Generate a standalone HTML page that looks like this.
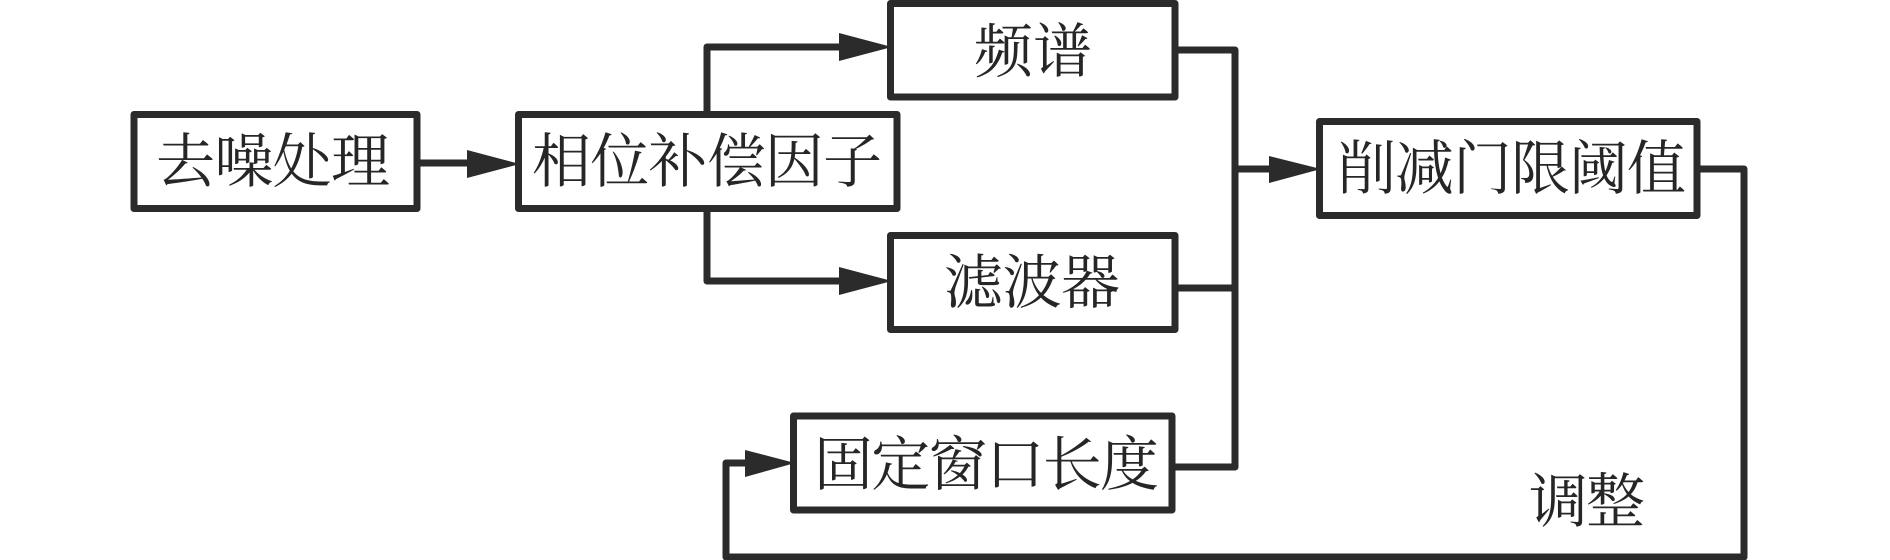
<!DOCTYPE html>
<html lang="zh">
<head>
<meta charset="utf-8">
<style>
html,body{margin:0;padding:0;background:#fff;width:1890px;height:560px;overflow:hidden}
svg{display:block}
text{font-family:"Liberation Serif","Noto Serif CJK SC",serif;font-size:59px;fill:#262626;font-weight:400}
rect{fill:#fff;stroke:#2b2b2b;stroke-width:7;stroke-linejoin:round}
path.l{fill:none;stroke:#2b2b2b;stroke-width:7;stroke-linejoin:round;stroke-linecap:round}
polygon{fill:#2b2b2b}
</style>
</head>
<body>
<svg width="1890" height="560" viewBox="0 0 1890 560" xmlns="http://www.w3.org/2000/svg">
<!-- connectors -->
<path class="l" d="M420 163H470"/>
<path class="l" d="M707 111V47H842"/>
<path class="l" d="M707 212V281H842"/>
<path class="l" d="M1178 50H1235V467H1175"/>
<path class="l" d="M1178 288H1235"/>
<path class="l" d="M1235 169H1272"/>
<path class="l" d="M1700 169H1744V557H726V463H748"/>
<!-- arrowheads -->
<polygon points="467,150 520,164 467,178"/>
<polygon points="839,33 892,47 839,61"/>
<polygon points="839,267 892,281 839,295"/>
<polygon points="1269,156 1321,169 1269,183"/>
<polygon points="745,450 795,463 745,477"/>
<!-- boxes -->
<rect x="134" y="114.500" width="283" height="94"/>
<rect x="518.500" y="114.500" width="378.500" height="94"/>
<rect x="890.500" y="3.500" width="284.500" height="93.500"/>
<rect x="890.500" y="235.500" width="284.500" height="94"/>
<rect x="1319.500" y="121.500" width="377.500" height="94"/>
<rect x="793.500" y="416" width="378.500" height="94"/>
<!-- labels -->
<text x="156" y="182" textLength="234">去噪处理</text>
<text x="532" y="182" textLength="350">相位补偿因子</text>
<text x="974" y="72" textLength="118">频谱</text>
<text x="944" y="303" textLength="176">滤波器</text>
<text x="1337" y="189" textLength="349">削减门限阈值</text>
<text x="814" y="485" textLength="345">固定窗口长度</text>
<text x="1529" y="522" textLength="116">调整</text>
</svg>
</body>
</html>
